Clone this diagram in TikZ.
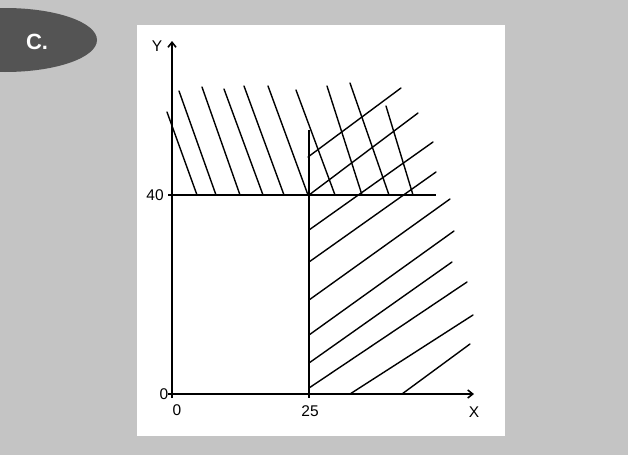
\documentclass[tikz,border=0pt]{standalone}
\usepackage{fontspec}
\setmainfont{Liberation Sans}
\usetikzlibrary{arrows.meta}
\definecolor{bgtex}{RGB}{196,196,196}
\definecolor{badge}{RGB}{84,84,84}
\tikzset{
  axis/.style={line width=1.6pt, black},
  hatch/.style={line width=1.4pt, black, line cap=round},
  lbl/.style={font=\fontsize{15.5}{15.5}\selectfont, inner sep=0pt},
}
\begin{document}
\begin{tikzpicture}[x=1pt,y=-1pt]
\useasboundingbox (0,0) rectangle (628,455);
\fill[bgtex] (0,0) rectangle (628,455);
% badge
\begin{scope}
\clip (0,0) rectangle (628,455);
\fill[badge] (5,40) ellipse [x radius=92, y radius=32];
\end{scope}
\node[font=\bfseries\fontsize{22}{22}\selectfont, text=white, inner sep=0pt] (badgeC) at (37,42) {C.};
% panel
\fill[white] (137,25) rectangle (505,436);
% coordinates
\coordinate (O) at (172,394);
\coordinate (Ytop) at (172,41);
\coordinate (Xend) at (474,394);
% hatch steep
\foreach \a/\b/\c/\d in {167/112/197/195, 179/91/216/195, 202/87/240/195, 224/89/263/195,
  244/86/284/195, 268/86/308/195, 296/90/335/195, 327/86/362/195, 350/83/389/195, 386/106/413/195}
  \draw[hatch] (\a,\b) -- (\c,\d);
% hatch rising
\foreach \a/\b/\c/\d in {308/157/401/88, 309/195/418/113, 309/230/433/142, 309/262/436/172,
  309/300/450/199, 309/335/454/231, 309/363/452/262, 309/388/467/282, 350/394/473/315, 402/394/470/344}
  \draw[hatch] (\a,\b) -- (\c,\d);
% axes and boundary lines
\draw[axis, -{Straight Barb[length=5pt,width=8pt]}] (172,398) -- (Ytop);
\draw[axis, -{Straight Barb[length=5pt,width=8pt]}] (168,394) -- (Xend);
\draw[axis] (168,195) -- (436,195);
\draw[axis] (309,130) -- (309,398);
% labels
\node[lbl] (ly) at (157,46) {Y};
\node[lbl] (l40) at (155,195) {40};
\node[lbl] (l0y) at (164,394) {0};
\node[lbl] (l0x) at (177,410) {0};
\node[lbl] (l25) at (310,411) {25};
\node[lbl] (lx) at (474,412) {X};
\end{tikzpicture}
\end{document}
